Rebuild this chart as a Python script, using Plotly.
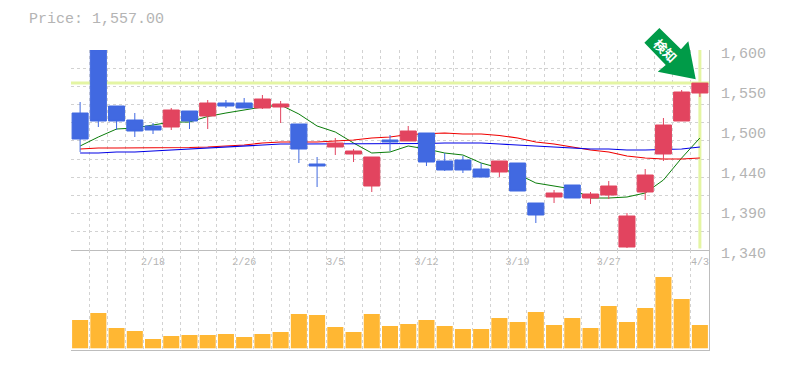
import plotly.graph_objects as go

session = list(range(35))
opens = [1518.1,1600,1527.2,1509,1501.2,1499.9,1520.7,1514.2,1531.1,1531.1,1524.6,1525.9,1503.8,1451.8,1473.9,1464.8,1423.2,1483,1481.7,1492.1,1455.7,1457,1445.3,1441.4,1453.1,1401.1,1408.9,1424.5,1407.6,1411.5,1343.9,1415.4,1464.8,1507.7,1544.1]
highs = [1532.4,1600,1527.2,1518.1,1505.1,1524.6,1520.7,1535,1535,1537.6,1541.5,1533.7,1503.8,1460.9,1485.6,1471.3,1460.9,1489.5,1501.2,1492.1,1466.1,1462.2,1453.1,1455.7,1453.1,1401.1,1418,1424.5,1415.4,1429.7,1388.1,1445.3,1511.6,1548,1557]
lows = [1467.4,1499.9,1496,1486.9,1490.8,1496,1497.3,1497.3,1524.6,1524.6,1523.3,1505.1,1453.1,1421.9,1463.5,1454.4,1415.4,1468.7,1481.7,1449.2,1442.7,1440.1,1434.9,1434.9,1416.7,1375.1,1401.1,1407.6,1399.8,1406.3,1342.6,1405,1455.7,1507.7,1538.9]
closes = [1484.3,1507.7,1507.7,1494.7,1496,1522,1507.7,1531.1,1527.2,1524.6,1536.3,1529.8,1471.3,1449.2,1479.1,1468.7,1460.9,1480.4,1494.7,1454.4,1444,1444,1434.9,1455.7,1416.7,1385.5,1414.1,1407.6,1412.8,1423.2,1384.2,1437.5,1502.5,1545.4,1557]
ma_green = [1475.2,1486.9,1497.3,1498.6,1502.5,1506.4,1506.4,1513.6,1518.1,1522,1525.9,1528.5,1516.8,1501.2,1493.4,1479.1,1466.1,1467.4,1475.2,1471.3,1466.1,1463.5,1453.1,1446.6,1438.8,1427.1,1423.2,1419.3,1407.6,1407.6,1408.9,1414.1,1431,1459.6,1485.6]
ma_red = [1471.3,1472.6,1472.6,1472.6,1472.6,1472.6,1473.2,1473.9,1475.2,1476.5,1479.1,1480.4,1480.4,1480.4,1481.7,1483,1485.6,1486.9,1490.2,1490.8,1492.1,1490.8,1490.8,1488.9,1485.6,1480.4,1477.8,1473.9,1470,1467.4,1462.2,1459.6,1458.3,1458.3,1459.6]
ma_blue = [1466.1,1466.1,1467.4,1467.4,1468.7,1470,1471.3,1472.6,1473.9,1475.2,1476.5,1477.8,1477.8,1477.8,1477.8,1477.8,1477.8,1477.8,1477.8,1478.5,1479.1,1479.1,1479.1,1477.8,1476.5,1475.2,1473.9,1472.6,1471.3,1471.3,1470,1470,1470.7,1471.3,1473.9]
volume = [28.3,35.3,20.3,17.3,9.3,12.3,13.3,13.3,14.3,11.3,14.3,16.3,34.3,33.3,21.3,16.3,34.3,22.3,24.3,28.3,22.3,19.3,19.3,30.3,26.3,36.3,23.3,30.3,20.3,42.3,26.3,40.3,71.3,49.3,23.3]
date_ticks = [4, 9, 14, 19, 24, 29, 34]
date_labels = ["2/18", "2/26", "3/5", "3/12", "3/19", "3/27", "4/3"]
price_ticks = [1600, 1548, 1496, 1444, 1392, 1340]
price_labels = ["1,600", "1,550", "1,500", "1,440", "1,390", "1,340"]
last_price = 1557.0

# the page has an 8px body margin, so the figure is placed 8px in from the window corner
PAGE = 8
W, H = 785 - PAGE, 370 - PAGE
ML, MR, MT, MB = 70.5 - PAGE, 76, 50 - PAGE, 20
GRID = "#d2d2d2"
AXIS = "#bdbdbd"
TEXT = "#b4b4b4"
HILITE = "#e4f5a3"
FONT = "Liberation Mono"

fig = go.Figure()
fig.add_trace(go.Scatter(x=[-0.5, 34.5], y=[last_price, last_price], mode="lines",
                         line=dict(color=HILITE, width=3), hoverinfo="skip"))
fig.add_trace(go.Scatter(x=[34, 34], y=[1600, 1342], mode="lines",
                         line=dict(color=HILITE, width=3), hoverinfo="skip"))
for vals, col, lw in ((ma_green, "#0a7d0a", 1), (ma_red, "#f00000", 1.1), (ma_blue, "#0000e6", 1.1)):
    fig.add_trace(go.Scatter(x=session, y=vals, mode="lines", line=dict(color=col, width=lw)))
# candles sit on an overlaid y axis, so they are painted above the lines
fig.add_trace(go.Candlestick(
    x=session, open=opens, high=highs, low=lows, close=closes, whiskerwidth=0, yaxis="y3",
    increasing=dict(line=dict(color="#e2445f", width=1), fillcolor="#e2445f"),
    decreasing=dict(line=dict(color="#4169e1", width=1), fillcolor="#4169e1"),
))
fig.add_trace(go.Bar(x=session, y=volume, marker=dict(color="#ffb733", line=dict(width=0)),
                     xaxis="x2", yaxis="y2"))


def px(x):
    return (x - PAGE - ML) / (W - ML - MR)


def py(y):
    return (H - MB - (y - PAGE)) / (H - MT - MB)


arrow_pts = [(659.3, 28), (644.3, 42.7), (665.7, 65), (657.7, 71.7), (695.7, 79.3), (688.3, 41.3), (681, 49.3)]
arrow_path = "M " + " L ".join(f"{px(a):.4f},{py(b):.4f}" for a, b in arrow_pts) + " Z"
fig.add_shape(type="path", path=arrow_path, xref="paper", yref="paper",
              fillcolor="#009b48", line=dict(width=0), layer="above")
fig.add_annotation(text="<b>検知</b>", xref="paper", yref="paper", x=px(666), y=py(50),
                   xanchor="center", yanchor="middle", showarrow=False, textangle=45,
                   font=dict(family="Noto Sans CJK JP", size=13, color="white"))

minor_x = dict(showgrid=True, gridcolor=GRID, griddash="3px,3px", gridwidth=1,
               tick0=-0.5, dtick=1, ticklen=0)
fig.update_layout(
    width=W, height=H, autosize=False,
    margin=dict(l=ML, r=MR, t=MT, b=MB, autoexpand=False),
    paper_bgcolor="white", plot_bgcolor="white",
    showlegend=False, bargap=0.12, boxgap=0.12, boxgroupgap=0,
    font=dict(family=FONT, color=TEXT),
    title=dict(text="Price: " + f"{last_price:,.2f}", x=(29 - PAGE) / W, xref="container", xanchor="left",
               y=1 - (18 - PAGE) / H, yref="container", yanchor="middle",
               font=dict(family=FONT, size=15, color=TEXT), pad=dict(l=0, r=0, t=0, b=0)),
    xaxis=dict(domain=[0, 1], range=[-0.5, 34.5], anchor="y", rangeslider=dict(visible=False),
               automargin=False,
               tickmode="array", tickvals=date_ticks, ticktext=date_labels, showgrid=False,
               minor=minor_x, zeroline=False, showline=True, linecolor=AXIS, linewidth=1,
               ticks="", tickfont=dict(family=FONT, size=10, color=TEXT), ticklabelstandoff=2),
    yaxis=dict(domain=[1 / 3, 1], range=[1340, 1600], anchor="x", side="right", automargin=False,
               tickmode="array", tickvals=price_ticks, ticktext=price_labels, showgrid=False,
               minor=dict(showgrid=True, gridcolor=GRID, griddash="3px,3px", gridwidth=1,
                          tick0=1340, dtick=260 / 11, ticklen=0),
               zeroline=False, showline=True, linecolor=AXIS, linewidth=1, ticks="",
               tickfont=dict(family=FONT, size=15, color=TEXT),
               ticklabelshift=3, ticklabelstandoff=8),
    yaxis3=dict(domain=[1 / 3, 1], range=[1340, 1600], overlaying="y", anchor="x", side="right",
                visible=False, showgrid=False, zeroline=False, automargin=False),
    xaxis2=dict(domain=[0, 1], range=[-0.5, 34.5], anchor="y2", matches="x", showticklabels=False,
                automargin=False,
                tickmode="array", tickvals=date_ticks, showgrid=False, minor=minor_x,
                zeroline=False, showline=True, linecolor=AXIS, linewidth=1, ticks=""),
    yaxis2=dict(domain=[0, 1 / 3], range=[-1.7, 98.3], anchor="x2", side="right", automargin=False,
                showticklabels=False, showgrid=False, zeroline=False,
                showline=True, linecolor=AXIS, linewidth=1, ticks=""),
)
fig.write_html("out.html")
